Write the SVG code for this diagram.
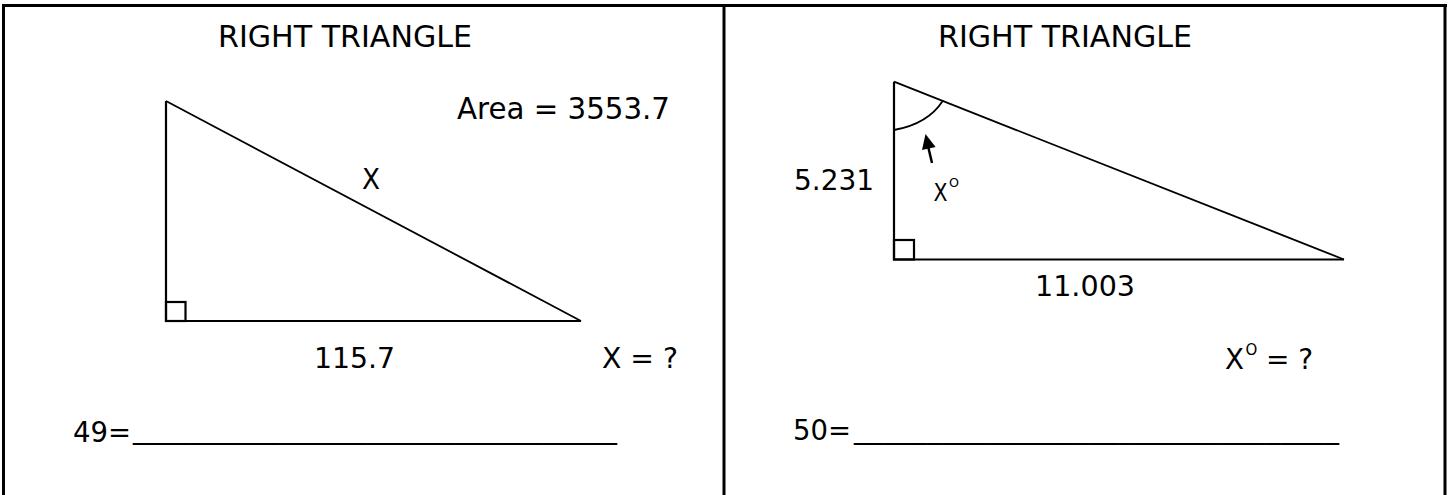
<svg xmlns="http://www.w3.org/2000/svg" width="1448" height="495" viewBox="0 0 1448 495">
<style>
text{font-family:"DejaVu Sans","Liberation Sans",sans-serif;fill:#000;}
.t{font-size:30px;}
.b{font-size:28px;}
.s{font-size:13px;}
.frame{stroke:#000;stroke-width:3;fill:none;}
.tri{stroke:#000;stroke-width:2.2;fill:none;stroke-linejoin:miter;}
.thin{stroke:#000;stroke-width:1.8;fill:none;}
</style>
<rect width="1448" height="495" fill="#fff"/>
<g id="frame">
<line class="frame" x1="2" y1="5.5" x2="1447" y2="5.5"/>
<line class="frame" x1="3.5" y1="4" x2="3.5" y2="495"/>
<line class="frame" x1="724" y1="4" x2="724" y2="495"/>
<line class="frame" x1="1445" y1="4" x2="1445" y2="495"/>
</g>
<g id="panel49">
<text class="t" x="218" y="47" textLength="254" lengthAdjust="spacingAndGlyphs">RIGHT TRIANGLE</text>
<polyline class="thin" points="166,101 581,321"/>
<polyline class="tri" points="166,101 166,321 581,321"/>
<rect class="tri" x="166" y="302" width="19.5" height="19"/>
<text class="t" x="457" y="119" textLength="213" lengthAdjust="spacingAndGlyphs">Area = 3553.7</text>
<text class="b" x="362" y="189" textLength="18" lengthAdjust="spacingAndGlyphs">X</text>
<text class="b" x="314" y="368" textLength="81" lengthAdjust="spacingAndGlyphs">115.7</text>
<text class="b" x="602" y="368" textLength="76" lengthAdjust="spacingAndGlyphs">X = ?</text>
<text class="b" x="73" y="442" textLength="58" lengthAdjust="spacingAndGlyphs">49=</text>
<text class="b" x="133" y="438" textLength="484" lengthAdjust="spacingAndGlyphs">_________________________________</text>
</g>
<g id="panel50">
<text class="t" x="938" y="47" textLength="254" lengthAdjust="spacingAndGlyphs">RIGHT TRIANGLE</text>
<polyline class="thin" points="894,81.7 1344,259.5"/>
<polyline class="tri" points="894,81.7 894,259.5 1344,259.5"/>
<rect class="tri" x="894" y="240" width="20" height="19.5"/>
<path class="thin" d="M894,130 Q928,124 943,100.5"/>
<line x1="932" y1="163" x2="928" y2="146" stroke="#000" stroke-width="2.5"/>
<polygon points="925.5,134 922,150.1 935.6,147.1" fill="#000"/>
<text class="b" x="794" y="190" textLength="80" lengthAdjust="spacingAndGlyphs">5.231</text>
<text style="font-size:24px" x="933.5" y="201" textLength="14" lengthAdjust="spacingAndGlyphs">X</text>
<text class="s" x="949" y="186.7" textLength="10" lengthAdjust="spacingAndGlyphs">O</text>
<text class="b" x="1035" y="296" textLength="100" lengthAdjust="spacingAndGlyphs">11.003</text>
<text class="b" x="1225" y="368.5" textLength="19" lengthAdjust="spacingAndGlyphs">X</text>
<text style="font-size:15px" x="1245.5" y="355">O</text>
<text class="b" x="1266" y="368.5">= ?</text>
<text class="b" x="793" y="440" textLength="58" lengthAdjust="spacingAndGlyphs">50=</text>
<text class="b" x="854" y="438" textLength="485" lengthAdjust="spacingAndGlyphs">_________________________________</text>
</g>
</svg>
